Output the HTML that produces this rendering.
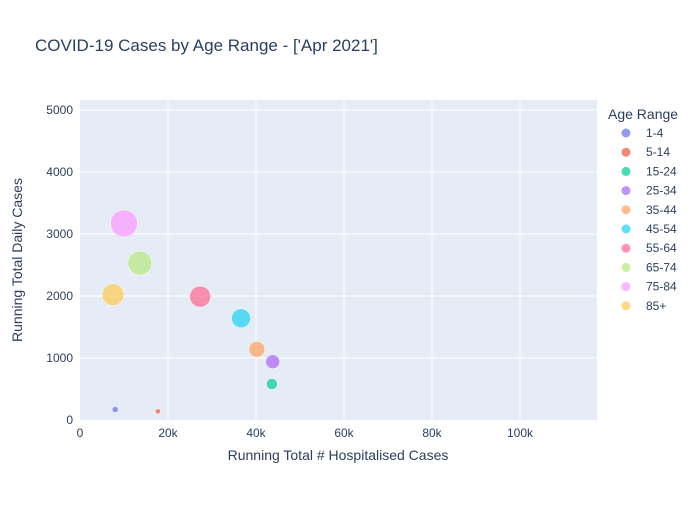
<!DOCTYPE html>
<html><head><meta charset="utf-8"><style>
body{margin:0;background:#fff;font-family:"Liberation Sans",sans-serif;}
</style></head><body>
<svg id="chart" width="700" height="500" xmlns="http://www.w3.org/2000/svg" style="font-family:'Liberation Sans',sans-serif">
<rect width="700" height="500" fill="#fff"/>
<text x="35" y="51" font-size="17" fill="#2a3f5f">COVID-19 Cases by Age Range - ['Apr 2021']</text>
<rect x="80" y="100" width="517" height="320" fill="#e5ecf6"/>
<g id="grid"></g>
<g id="marks"></g>
<g id="legend"></g>
<text x="338" y="460" font-size="14" fill="#2a3f5f" text-anchor="middle">Running Total # Hospitalised Cases</text>
<text transform="translate(22,260) rotate(-90)" font-size="14" fill="#2a3f5f" text-anchor="middle">Running Total Daily Cases</text>
</svg>
<script>
const categories=["1-4","5-14","15-24","25-34","35-44","45-54","55-64","65-74","75-84","85+"];
const xValues=[8000,17700,43600,43800,40200,36600,27300,13600,10000,7500];
const yValues=[170,140,580,940,1140,1640,1990,2530,3170,2020];
const sizes=[3,2.5,5.5,7,8,9.5,10.5,12,13.5,11];
const colors=["#636efa","#EF553B","#00cc96","#ab63fa","#FFA15A","#19d3f3","#FF6692","#B6E880","#FF97FF","#FECB52"];
const xTicks=[0,20000,40000,60000,80000,100000];
const xTickLabels=["0","20k","40k","60k","80k","100k"];
const yTicks=[0,1000,2000,3000,4000,5000];
const NS="http://www.w3.org/2000/svg";
function xs(v){return 80+v*88/20000;}
function ys(v){return 420-v*0.062;}
function mk(t,a,p){const e=document.createElementNS(NS,t);for(const k in a)e.setAttribute(k,a[k]);p.appendChild(e);return e;}
const grid=document.getElementById('grid');
xTicks.forEach((t,i)=>{
  if(t>0){const l=mk('line',{x1:xs(t),x2:xs(t),y1:100,y2:420,stroke:'#fff','stroke-width':1},grid);
  
  }
  const tx=mk('text',{x:xs(t),y:437,'font-size':12,fill:'#2a3f5f','text-anchor':'middle'},grid);
  tx.textContent=xTickLabels[i];
  
  
});
yTicks.forEach(t=>{
  if(t>0){const l=mk('line',{x1:80,x2:597,y1:ys(t),y2:ys(t),stroke:'#fff','stroke-width':1},grid);
  
  }
  const tx=mk('text',{x:73,y:ys(t)+4,'font-size':12,fill:'#2a3f5f','text-anchor':'end'},grid);
  tx.textContent=String(t);
  
  
});
const marks=document.getElementById('marks');
categories.forEach((c,i)=>{
  const ci=mk('circle',{cx:xs(xValues[i]),cy:ys(yValues[i]),r:sizes[i],fill:colors[i],'fill-opacity':0.7,stroke:'#fff','stroke-width':0.5},marks);
  
  
});
const lg=document.getElementById('legend');
const lt=mk('text',{x:608,y:119,'font-size':14,fill:'#2a3f5f'},lg);
lt.textContent='Age Range';


categories.forEach((c,i)=>{
  const y=133+i*19.2;
  const g=mk('g',{},lg);
  
  
  mk('circle',{cx:626,cy:y,r:4.5,fill:colors[i],'fill-opacity':0.7},g);
  const t=mk('text',{x:646,y:y+4,'font-size':12,fill:'#2a3f5f'},g);
  t.textContent=c;
});
</script>
</body></html>
